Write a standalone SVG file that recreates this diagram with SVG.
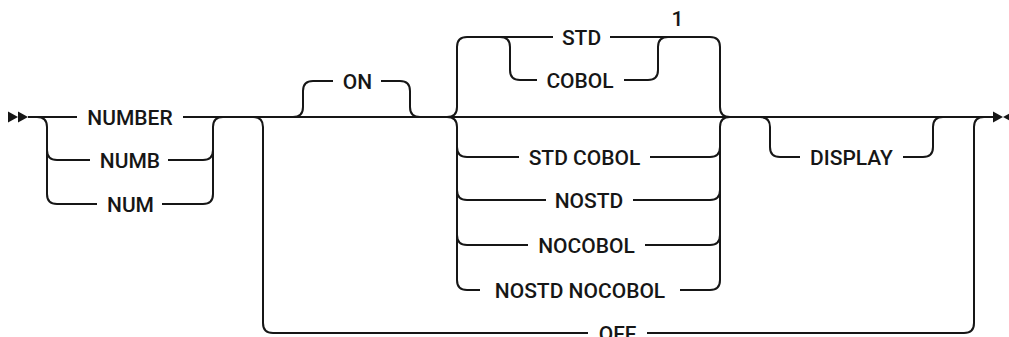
<svg xmlns="http://www.w3.org/2000/svg" width="1009" height="337" viewBox="0 0 1009 337">
<style>
.ln{fill:none;stroke:#161616;stroke-width:2;stroke-linecap:butt;stroke-linejoin:round}
.tx{font-family:Roboto,"Liberation Sans",sans-serif;font-weight:500;font-size:21px;fill:#161616;text-anchor:middle}
.ar{fill:#161616}
</style>
<rect width="1009" height="337" fill="#ffffff"/>
<g id="connectors">
<path class="ln" d="M28 117 H77 M183 117 H993"/>
<path class="ln" d="M37 117 Q47 117 47 127 V194 Q47 204 57 204 H97 M47 150 Q47 160 57 160 H90"/>
<path class="ln" d="M168 160 H203 Q213 160 213 150 M162 204 H203 Q213 204 213 194 V127 Q213 117 223 117"/>
<path class="ln" d="M253 117 Q263 117 263 127 V323 Q263 333 273 333 H588 M647 333 H964 Q974 333 974 323 V127 Q974 117 984 117"/>
<path class="ln" d="M293 117 Q303 117 303 107 V91 Q303 81 313 81 H333 M381 81 H400 Q410 81 410 91 V107 Q410 117 420 117"/>
<path class="ln" d="M447 117 Q457 117 457 107 V47 Q457 37 467 37 H553 M610 37 H710 Q720 37 720 47 V107 Q720 117 730 117"/>
<path class="ln" d="M500 37 Q510 37 510 47 V70 Q510 80 520 80 H537 M624 80 H648 Q658 80 658 70 V47 Q658 37 668 37"/>
<path class="ln" d="M447 117 Q457 117 457 127 V280 Q457 290 467 290 H480 M680 290 H710 Q720 290 720 280 V127 Q720 117 730 117"/>
<path class="ln" d="M457 147 Q457 157 467 157 H519 M650 157 H710 Q720 157 720 147"/>
<path class="ln" d="M457 190 Q457 200 467 200 H546 M633 200 H710 Q720 200 720 190"/>
<path class="ln" d="M457 235 Q457 245 467 245 H528 M645 245 H710 Q720 245 720 235"/>
<path class="ln" d="M760 117 Q770 117 770 127 V147 Q770 157 780 157 H800 M903 157 H923 Q933 157 933 147 V127 Q933 117 943 117"/>
<polygon class="ar" points="8,111.5 18,117 8,122.5"/>
<polygon class="ar" points="18,111.5 28,117 18,122.5"/>
<polygon class="ar" points="993,111.5 1003,117 993,122.5"/>
<polygon class="ar" points="1013,111.5 1003,117 1013,122.5"/>
</g>
<g id="n-number"><text class="tx" x="130" y="124.5">NUMBER</text></g>
<g id="n-numb"><text class="tx" x="130" y="167.5">NUMB</text></g>
<g id="n-num"><text class="tx" x="130.5" y="211.5">NUM</text></g>
<g id="n-on"><text class="tx" x="357.5" y="88.5">ON</text></g>
<g id="n-std"><text class="tx" x="581.5" y="44.5">STD</text></g>
<g id="n-cobol"><text class="tx" x="580" y="87.5">COBOL</text></g>
<g id="n-note1"><text class="tx" x="677.5" y="26">1</text></g>
<g id="n-stdcobol"><text class="tx" x="584.5" y="164.5">STD COBOL</text></g>
<g id="n-nostd"><text class="tx" x="589" y="207.5">NOSTD</text></g>
<g id="n-nocobol"><text class="tx" x="586.5" y="252.5">NOCOBOL</text></g>
<g id="n-nostdnocobol"><text class="tx" x="580" y="297.5">NOSTD NOCOBOL</text></g>
<g id="n-display"><text class="tx" x="851.5" y="164.5">DISPLAY</text></g>
<g id="n-off"><text class="tx" x="617.5" y="340.5">OFF</text></g>
</svg>
